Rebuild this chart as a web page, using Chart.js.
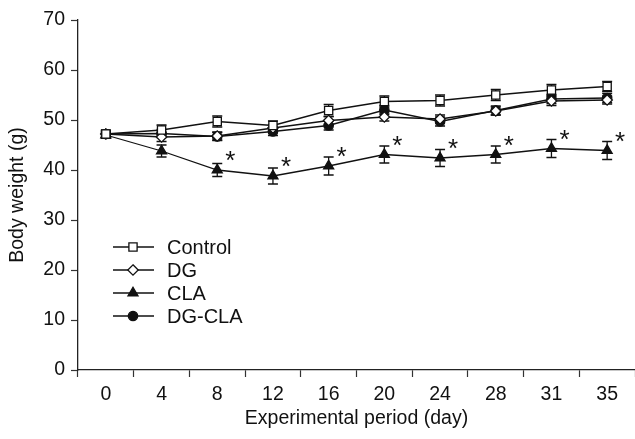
<!DOCTYPE html>
<html>
<head>
<meta charset="utf-8">
<script src="https://cdn.jsdelivr.net/npm/chart.js@4/dist/chart.umd.min.js"></script>
<style>
  body { margin: 0; background: #fff; }
  #wrap { width: 635px; height: 439px; }
</style>
</head>
<body>
<div id="wrap"><canvas id="bwChart" width="635" height="439"></canvas></div>
<script>
// data
const days = ['0', '4', '8', '12', '16', '20', '24', '28', '31', '35'];
const yTicks = [0, 10, 20, 30, 40, 50, 60, 70];

const control = [47.2, 48.0, 49.7, 48.9, 51.9, 53.7, 53.9, 55.0, 56.0, 56.7];
const dg = [47.2, 46.6, 46.8, 48.4, 49.9, 50.6, 50.2, 51.8, 53.8, 54.0];
const cla = [47.0, 43.8, 40.0, 38.8, 40.8, 43.1, 42.4, 43.1, 44.3, 43.9];
const dgCla = [47.2, 47.3, 46.7, 47.7, 48.9, 52.0, 49.7, 51.9, 54.2, 54.4];

const controlErr = [0.8, 1.0, 1.1, 0.9, 1.2, 1.1, 1.1, 1.1, 1.1, 1.0];
const dgErr = [0.6, 0.9, 0.8, 0.7, 0.8, 0.8, 0.8, 0.8, 0.9, 0.8];
const claErr = [0.6, 1.2, 1.3, 1.6, 1.8, 1.7, 1.7, 1.7, 1.8, 1.8];
const dgClaErr = [0.6, 0.8, 0.8, 0.8, 0.9, 0.9, 0.9, 0.9, 0.9, 0.9];

// significance marks (*) on the CLA series
const claSig = [false, false, true, true, true, true, true, true, true, true];

const FONT = "'Liberation Sans', Arial, sans-serif";
const INK = '#111';

function series(label, data, errs, style, fill, radius) {
    return {
        label: label,
        data: data,
        errors: errs,
        borderColor: INK,
        borderWidth: 1.3,
        pointStyle: style,
        pointRadius: radius,
        pointHoverRadius: radius,
        pointBackgroundColor: fill,
        pointBorderColor: INK,
        pointBorderWidth: 1.3,
        tension: 0,
        fill: false
    };
}

// simple marker drawing for the legend
function drawMarker(ctx, style, fill, x, y, r) {
    ctx.beginPath();
    if (style === 'rect') {
        const h = r * Math.SQRT1_2;
        ctx.rect(x - h, y - h, 2 * h, 2 * h);
    } else if (style === 'rectRot') {
        ctx.moveTo(x, y - r);
        ctx.lineTo(x + r, y);
        ctx.lineTo(x, y + r);
        ctx.lineTo(x - r, y);
        ctx.closePath();
    } else if (style === 'triangle') {
        ctx.moveTo(x, y - r);
        ctx.lineTo(x + r * 0.866, y + r * 0.5);
        ctx.lineTo(x - r * 0.866, y + r * 0.5);
        ctx.closePath();
    } else {
        ctx.arc(x, y, r, 0, Math.PI * 2);
    }
    ctx.fillStyle = fill;
    ctx.fill();
    ctx.lineWidth = 1.3;
    ctx.strokeStyle = INK;
    ctx.stroke();
}

// error bars with caps, drawn under the markers
const errorBars = {
    id: 'errorBars',
    beforeDatasetsDraw(chart) {
        const ctx = chart.ctx;
        const yScale = chart.scales.y;
        ctx.save();
        ctx.strokeStyle = INK;
        ctx.lineWidth = 1.3;
        chart.data.datasets.forEach((ds, i) => {
            const meta = chart.getDatasetMeta(i);
            meta.data.forEach((pt, j) => {
                const e = ds.errors[j];
                const top = yScale.getPixelForValue(ds.data[j] + e);
                const bot = yScale.getPixelForValue(ds.data[j] - e);
                ctx.beginPath();
                ctx.moveTo(pt.x, top); ctx.lineTo(pt.x, bot);
                ctx.moveTo(pt.x - 5, top); ctx.lineTo(pt.x + 5, top);
                ctx.moveTo(pt.x - 5, bot); ctx.lineTo(pt.x + 5, bot);
                ctx.stroke();
            });
        });
        ctx.restore();
    },
    afterDatasetsDraw(chart) {
        const ctx = chart.ctx;
        const claMeta = chart.getDatasetMeta(2);
        ctx.save();
        ctx.fillStyle = INK;
        ctx.font = '26px ' + FONT;
        ctx.textAlign = 'center';
        ctx.textBaseline = 'alphabetic';
        claMeta.data.forEach((pt, j) => {
            if (claSig[j]) ctx.fillText('*', pt.x + 13, pt.y - 16 + 15);
        });

        // legend inside the plot, lower left
        const rows = [
            ['Control', 'rect', '#fff', 5.8],
            ['DG', 'rectRot', '#fff', 5.2],
            ['CLA', 'triangle', INK, 5.8],
            ['DG-CLA', 'circle', INK, 4.7]
        ];
        ctx.font = '20px ' + FONT;
        ctx.textAlign = 'left';
        ctx.textBaseline = 'middle';
        rows.forEach((row, k) => {
            const y = 247 + k * 23;
            ctx.beginPath();
            ctx.moveTo(113, y); ctx.lineTo(154, y);
            ctx.lineWidth = 1.3;
            ctx.strokeStyle = INK;
            ctx.stroke();
            drawMarker(ctx, row[1], row[2], 133, y, row[3]);
            ctx.fillStyle = INK;
            ctx.fillText(row[0], 167, y + 1);
        });
        ctx.restore();
    }
};

const ctx = document.getElementById('bwChart').getContext('2d');
new Chart(ctx, {
    type: 'line',
    data: {
        labels: days,
        datasets: [
            series('Control', control, controlErr, 'rect', '#fff', 5.8),
            series('DG', dg, dgErr, 'rectRot', '#fff', 5.2),
            series('CLA', cla, claErr, 'triangle', INK, 5.8),
            series('DG-CLA', dgCla, dgClaErr, 'circle', INK, 4.7)
        ]
    },
    options: {
        responsive: false,
        animation: false,
        layout: { autoPadding: false, padding: { top: 20, right: 0, left: 0, bottom: 0 } },
        plugins: {
            legend: { display: false },
            tooltip: { enabled: false }
        },
        scales: {
            x: {
                type: 'category',
                offset: true,
                grid: { offset: true, drawOnChartArea: false, tickLength: 7, color: '#333', tickWidth: 1.2 },
                border: { color: '#222', width: 1.3 },
                ticks: { color: INK, font: { family: FONT, size: 19.5 }, padding: 6, maxRotation: 0 },
                title: {
                    display: true,
                    text: 'Experimental period (day)',
                    color: INK,
                    font: { family: FONT, size: 19.5 },
                    padding: { top: 0, bottom: 9 }
                },
                afterFit(scale) {
                    scale.height = 69;
                    scale.paddingLeft = 0;
                    scale.paddingRight = 0;
                }
            },
            y: {
                min: 0,
                max: 70,
                afterBuildTicks(scale) { scale.ticks = yTicks.map(v => ({ value: v })); },
                grid: { drawOnChartArea: false, tickLength: 7, color: '#333', tickWidth: 1.2 },
                border: { color: '#222', width: 1.3 },
                ticks: { color: INK, font: { family: FONT, size: 19.5 }, padding: 6 },
                title: {
                    display: true,
                    text: 'Body weight (g)',
                    color: INK,
                    font: { family: FONT, size: 19.5 },
                    padding: { top: 6, bottom: 0 }
                },
                afterFit(scale) { scale.width = 78; }
            }
        }
    },
    plugins: [errorBars]
});
</script>
</body>
</html>
